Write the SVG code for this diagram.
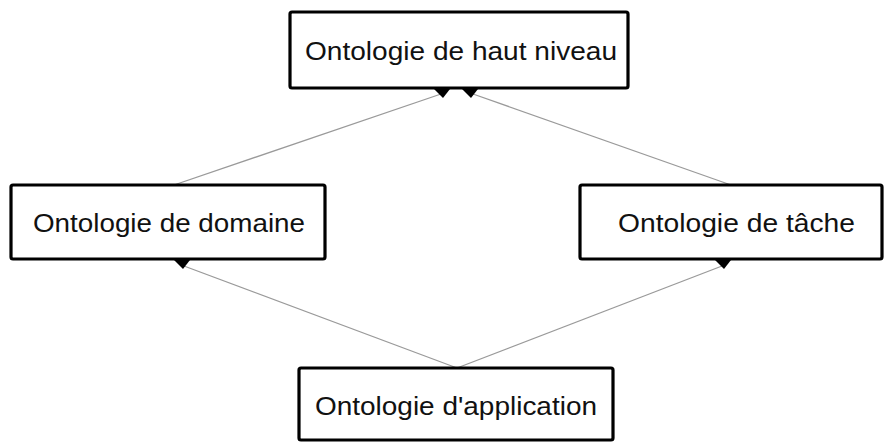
<svg xmlns="http://www.w3.org/2000/svg" width="885" height="443" viewBox="0 0 885 443">
  <style>
    .box { fill: #ffffff; stroke: #000000; stroke-width: 3.2; }
    .label { font-family: "Liberation Sans", Arial, sans-serif; font-size: 25px; fill: #111111; }
    .link { stroke: #9a9a9a; stroke-width: 1.3; fill: none; }
    .head { fill: #000000; }
  </style>
  <defs>
    <path id="tip" d="M-8,-1 L8,-1 L1,8 Z"/>
  </defs>
  <rect width="885" height="443" fill="#ffffff"/>

  <!-- connectors -->
  <g id="connectors">
    <line class="link" x1="174" y1="185" x2="441" y2="94"/>
    <line class="link" x1="731" y1="185" x2="473" y2="94"/>
    <line class="link" x1="457" y1="368" x2="184" y2="266"/>
    <line class="link" x1="457" y1="368" x2="722" y2="266"/>
    <use href="#tip" class="head" x="442" y="90"/>
    <use href="#tip" class="head" x="470" y="90"/>
    <use href="#tip" class="head" x="182" y="261"/>
    <use href="#tip" class="head" x="723" y="261"/>
  </g>

  <g id="node-haut-niveau">
    <rect class="box" x="290" y="12" width="338" height="76" rx="2"/>
    <text class="label" x="305" y="60" textLength="312" lengthAdjust="spacingAndGlyphs">Ontologie de haut niveau</text>
  </g>

  <g id="node-domaine">
    <rect class="box" x="11" y="185" width="314" height="74" rx="2"/>
    <text class="label" x="33" y="232" textLength="272" lengthAdjust="spacingAndGlyphs">Ontologie de domaine</text>
  </g>

  <g id="node-tache">
    <rect class="box" x="580" y="185" width="302" height="74" rx="2"/>
    <text class="label" x="618" y="232" textLength="237" lengthAdjust="spacingAndGlyphs">Ontologie de tâche</text>
  </g>

  <g id="node-application">
    <rect class="box" x="299" y="368" width="314" height="72" rx="2"/>
    <text class="label" x="315" y="415" textLength="282" lengthAdjust="spacingAndGlyphs">Ontologie d'application</text>
  </g>
</svg>
